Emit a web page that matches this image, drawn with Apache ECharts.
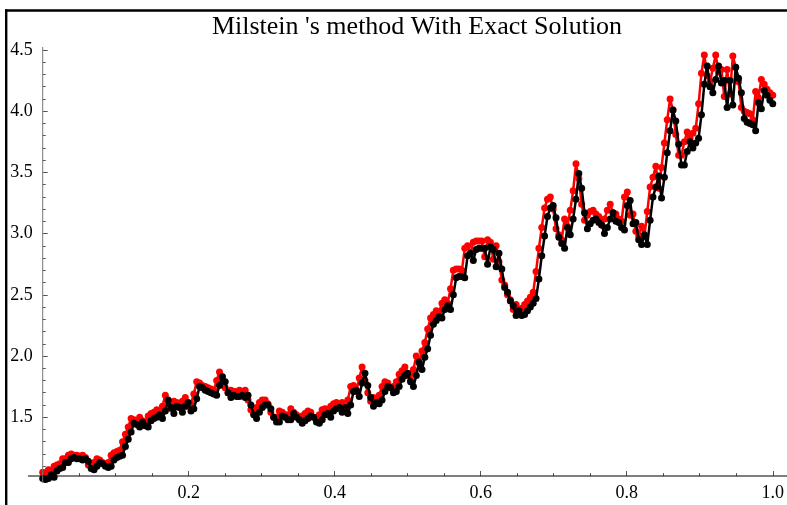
<!DOCTYPE html>
<html><head><meta charset="utf-8">
<script src="https://cdn.jsdelivr.net/npm/echarts@6/dist/echarts.min.js"></script>
<style>html,body{margin:0;padding:0;background:#fff}#c{width:787px;height:505px}</style>
</head><body><div id="c"></div>
<script>
const titleText = "Milstein 's method With Exact Solution";
const nSteps = 256;
const xTickLabels = ["0.2", "0.4", "0.6", "0.8", "1.0"];
const yTickLabels = ["1.5", "2.0", "2.5", "3.0", "3.5", "4.0", "4.5"];

// Milstein approximation (black)
const milstein = [
1.00,0.99,1.00,1.03,1.01,1.06,1.08,1.09,1.13,1.13,
1.16,1.17,1.16,1.16,1.15,1.16,1.14,1.08,1.07,1.10,
1.13,1.12,1.10,1.09,1.10,1.15,1.17,1.18,1.19,1.26,
1.32,1.38,1.45,1.44,1.42,1.46,1.43,1.42,1.47,1.49,
1.50,1.52,1.49,1.55,1.64,1.58,1.53,1.59,1.58,1.54,
1.59,1.62,1.55,1.57,1.65,1.75,1.74,1.72,1.71,1.70,
1.69,1.68,1.76,1.83,1.79,1.70,1.66,1.68,1.67,1.67,
1.68,1.66,1.68,1.60,1.52,1.49,1.54,1.58,1.60,1.60,
1.57,1.50,1.46,1.46,1.51,1.50,1.48,1.48,1.53,1.50,
1.48,1.45,1.47,1.49,1.51,1.50,1.46,1.45,1.48,1.52,
1.53,1.50,1.55,1.57,1.58,1.54,1.58,1.53,1.60,1.71,
1.72,1.67,1.78,1.86,1.76,1.66,1.59,1.62,1.61,1.64,
1.71,1.75,1.74,1.70,1.71,1.75,1.81,1.84,1.86,1.79,
1.75,1.84,1.95,1.89,1.99,2.06,2.17,2.26,2.29,2.32,
2.31,2.38,2.41,2.38,2.50,2.64,2.65,2.65,2.64,2.82,
2.84,2.78,2.87,2.88,2.88,2.88,2.75,2.89,2.87,2.73,
2.84,2.71,2.56,2.52,2.45,2.41,2.33,2.37,2.33,2.34,
2.37,2.40,2.43,2.47,2.63,2.82,2.98,3.14,3.21,3.23,
3.13,2.97,2.92,2.88,3.05,2.99,3.12,3.28,3.49,3.37,
3.17,3.04,3.08,3.11,3.12,3.09,3.07,3.00,3.05,3.12,
3.17,3.10,3.09,3.05,3.03,3.23,3.27,3.08,3.09,2.95,
2.91,2.99,2.91,3.11,3.30,3.38,3.47,3.29,3.46,3.66,
3.84,4.01,3.92,3.73,3.56,3.56,3.67,3.75,3.70,3.74,
3.78,3.97,4.22,4.37,4.20,4.15,4.26,4.37,4.23,4.25,
4.03,4.25,4.05,4.36,4.27,4.15,3.94,3.91,3.90,3.89,
3.84,4.07,4.02,4.17,4.13,4.09,4.06
];

// Exact solution (red)
const exact = [
1.05,1.04,1.07,1.05,1.10,1.11,1.12,1.16,1.16,1.19,
1.20,1.19,1.19,1.18,1.19,1.17,1.11,1.10,1.13,1.16,
1.15,1.13,1.12,1.13,1.19,1.21,1.22,1.23,1.30,1.36,
1.42,1.49,1.48,1.46,1.50,1.47,1.46,1.51,1.53,1.54,
1.56,1.53,1.59,1.68,1.62,1.57,1.63,1.62,1.58,1.63,
1.66,1.59,1.61,1.69,1.79,1.78,1.76,1.75,1.74,1.73,
1.72,1.80,1.87,1.83,1.74,1.70,1.72,1.71,1.71,1.72,
1.70,1.72,1.64,1.56,1.53,1.58,1.62,1.64,1.64,1.61,
1.54,1.50,1.50,1.55,1.54,1.52,1.52,1.57,1.54,1.52,
1.49,1.51,1.53,1.55,1.54,1.50,1.49,1.52,1.56,1.57,
1.54,1.59,1.61,1.62,1.58,1.62,1.57,1.64,1.75,1.76,
1.71,1.82,1.91,1.80,1.70,1.63,1.66,1.65,1.68,1.75,
1.79,1.78,1.74,1.75,1.79,1.85,1.88,1.91,1.84,1.80,
1.89,2.00,1.94,2.04,2.11,2.22,2.31,2.34,2.37,2.36,
2.43,2.46,2.43,2.55,2.70,2.71,2.71,2.70,2.88,2.90,
2.84,2.93,2.94,2.94,2.94,2.81,2.95,2.93,2.79,2.90,
2.77,2.62,2.58,2.50,2.46,2.38,2.42,2.38,2.39,2.42,
2.45,2.48,2.52,2.69,2.88,3.05,3.21,3.28,3.30,3.20,
3.04,2.99,2.95,3.12,3.06,3.19,3.35,3.57,3.45,3.24,
3.11,3.15,3.18,3.19,3.16,3.14,3.07,3.12,3.19,3.24,
3.17,3.16,3.12,3.10,3.30,3.34,3.15,3.16,3.02,2.98,
3.06,2.98,3.18,3.38,3.46,3.55,3.37,3.54,3.74,3.93,
4.10,4.01,3.81,3.64,3.64,3.75,3.83,3.78,3.82,3.86,
4.06,4.31,4.46,4.29,4.24,4.35,4.46,4.32,4.34,4.12,
4.34,4.14,4.45,4.36,4.24,4.03,4.00,3.99,3.98,3.93,
4.16,4.11,4.26,4.22,4.18,4.15,4.13
];

const toPairs = arr => arr.map((v, i) => [i / nSteps, v]);
const FONT = '"Liberation Serif", "Times New Roman", serif';

const chart = echarts.init(document.getElementById('c'), null, {renderer: 'canvas'});
chart.setOption({
  animation: false,
  backgroundColor: '#fff',
  grid: {left: 42.7, right: 8, top: 50, bottom: 26.6},
  xAxis: {
    type: 'value', min: 0, max: 1, interval: 0.2, offset: -2.4,
    axisLine: {show: false},
    axisTick: {show: true, inside: true, length: 5, lineStyle: {color: '#555', width: 1}},
    minorTick: {show: true, splitNumber: 4, length: 3, lineStyle: {color: '#555', width: 1}},
    splitLine: {show: false},
    axisLabel: {
      margin: 8, color: '#000', fontFamily: FONT, fontSize: 18,
      formatter: v => { const s = v.toFixed(1); return xTickLabels.includes(s) ? s : ''; }
    }
  },
  yAxis: {
    type: 'value', min: 1, max: 4.5, interval: 0.5,
    axisLine: {show: false},
    axisTick: {show: true, inside: true, length: 5, lineStyle: {color: '#555', width: 1}},
    minorTick: {show: true, splitNumber: 5, length: 3, lineStyle: {color: '#555', width: 1}},
    splitLine: {show: false},
    axisLabel: {
      margin: 10, color: '#000', fontFamily: FONT, fontSize: 18,
      formatter: v => { const s = v.toFixed(1); return yTickLabels.includes(s) ? s : ''; }
    }
  },
  graphic: [
    {type: 'rect', shape: {x: 5, y: 9.3, width: 782, height: 2.4}, style: {fill: '#000'}, z: 100},
    {type: 'rect', shape: {x: 5, y: 9.3, width: 2.4, height: 496}, style: {fill: '#000'}, z: 100},
    {type: 'line', shape: {x1: 28, y1: 476, x2: 787, y2: 476}, style: {stroke: '#000', lineWidth: 1}, z: 50},
    {type: 'line', shape: {x1: 42.7, y1: 47, x2: 42.7, y2: 483}, style: {stroke: '#777', lineWidth: 1}, z: 50},
    {type: 'text', x: 417, y: 27, z: 100,
     style: {text: titleText, textAlign: 'center', textVerticalAlign: 'middle', font: '26px ' + FONT, fill: '#000'}}
  ],
  series: [
    {
      name: 'Exact', type: 'line', data: toPairs(exact), clip: false,
      symbol: 'circle', symbolSize: 7, showSymbol: true,
      lineStyle: {color: '#ff0000', width: 2.5}, itemStyle: {color: '#ff0000'}, z: 2
    },
    {
      name: 'Milstein', type: 'line', data: toPairs(milstein), clip: false,
      symbol: 'circle', symbolSize: 7, showSymbol: true,
      lineStyle: {color: '#000', width: 2.5}, itemStyle: {color: '#000'}, z: 3
    }
  ]
});
</script>
</body></html>
